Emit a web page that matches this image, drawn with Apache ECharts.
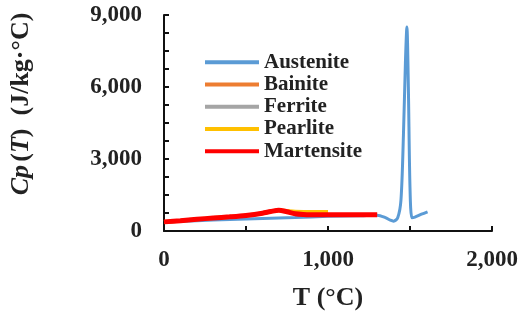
<!DOCTYPE html>
<html>
<head>
<meta charset="utf-8">
<script src="https://cdn.jsdelivr.net/npm/echarts@6/dist/echarts.min.js"></script>
<style>
  html, body { margin: 0; padding: 0; background: #fff; }
  #chart { width: 521px; height: 320px; }
</style>
</head>
<body>
<div id="chart"></div>
<script>
// data (temperature in °C, Cp in J/kg·°C)
var austeniteT = [0, 200, 400, 600, 800, 1000, 1200, 1300, 1350, 1380, 1400, 1425, 1445, 1460, 1472, 1481, 1490, 1500, 1512, 1530, 1570, 1607];
var austeniteCp = [380, 430, 480, 520, 560, 610, 640, 660, 560, 450, 410, 550, 1300, 4000, 7000, 8500, 6000, 1800, 550, 580, 700, 800];

var bainiteT = [0, 100, 200, 300, 400, 500, 600, 650, 700, 750, 800];
var bainiteCp = [375, 425, 485, 535, 585, 645, 735, 805, 860, 800, 730];

var ferriteT = [0, 100, 200, 300, 400, 500, 600, 650, 700, 750, 800, 900];
var ferriteCp = [375, 425, 485, 535, 585, 645, 735, 805, 860, 800, 720, 680];

var pearliteT = [0, 100, 200, 300, 400, 500, 600, 650, 700, 750, 800, 850, 900, 1000];
var pearliteCp = [380, 430, 490, 540, 590, 650, 740, 810, 865, 830, 800, 795, 795, 795];

var martensiteT = [0, 100, 200, 300, 400, 500, 600, 650, 700, 750, 800, 850, 900, 1000, 1100, 1200, 1300];
var martensiteCp = [380, 430, 490, 540, 590, 650, 740, 810, 865, 800, 720, 690, 680, 675, 675, 675, 675];

var seriesNames = ['Austenite', 'Bainite', 'Ferrite', 'Pearlite', 'Martensite'];
var seriesColors = ['#5B9BD5', '#ED7D31', '#A5A5A5', '#FFC000', '#FF0000'];

function pairs(xs, ys) {
  var out = [];
  for (var i = 0; i < xs.length; i++) out.push([xs[i], ys[i]]);
  return out;
}

var chart = echarts.init(document.getElementById('chart'));
var serif = 'Liberation Serif';

function makeSeries(name, color, data, width) {
  return {
    name: name,
    type: 'line',
    data: data,
    smooth: 0.3,
    showSymbol: false,
    lineStyle: { color: color, width: width },
    itemStyle: { color: color }
  };
}

var option = {
  animation: false,
  grid: { left: 164, right: 29, top: 15, bottom: 89 },
  legend: {
    orient: 'vertical',
    left: 200,
    top: 46,
    icon: 'rect',
    itemWidth: 54,
    itemHeight: 4,
    itemGap: 0,
    data: seriesNames,
    textStyle: { fontFamily: serif, fontWeight: 'bold', fontSize: 21, color: '#222', lineHeight: 22.3 }
  },
  xAxis: {
    type: 'value',
    min: 0,
    max: 2000,
    interval: 500,
    name: 'T (°C)',
    nameLocation: 'middle',
    nameGap: 54,
    nameTextStyle: { fontFamily: serif, fontWeight: 'bold', fontSize: 26, color: '#222' },
    axisLine: { lineStyle: { color: '#111', width: 2 } },
    axisTick: { show: true, inside: true, length: 5, lineStyle: { color: '#111', width: 2 } },
    splitLine: { show: false },
    axisLabel: {
      margin: 18,
      fontFamily: serif, fontWeight: 'bold', fontSize: 23, color: '#222',
      formatter: function (v) { return v % 1000 === 0 ? v.toLocaleString('en-US') : ''; }
    }
  },
  yAxis: {
    type: 'value',
    min: 0,
    max: 9000,
    interval: 750,
    name: '{i|Cp} {n|(}{i|T}{n|)  (J/kg·°C)}',
    nameLocation: 'middle',
    nameRotate: 90,
    nameGap: 130,
    nameTextStyle: {
      padding: [0, 0, 0, 38],
      rich: {
        i: { fontFamily: serif, fontStyle: 'italic', fontWeight: 'bold', fontSize: 26, color: '#222' },
        n: { fontFamily: serif, fontWeight: 'bold', fontSize: 26, color: '#222' }
      }
    },
    axisLine: { show: true, lineStyle: { color: '#111', width: 2 } },
    axisTick: { show: true, inside: true, length: 5, lineStyle: { color: '#111', width: 2 } },
    splitLine: { show: false },
    axisLabel: {
      margin: 22,
      fontFamily: serif, fontWeight: 'bold', fontSize: 23, color: '#222',
      formatter: function (v) { return v % 3000 === 0 ? v.toLocaleString('en-US') : ''; }
    }
  },
  series: [
    makeSeries('Austenite', seriesColors[0], pairs(austeniteT, austeniteCp), 3),
    makeSeries('Bainite', seriesColors[1], pairs(bainiteT, bainiteCp), 3),
    makeSeries('Ferrite', seriesColors[2], pairs(ferriteT, ferriteCp), 3),
    makeSeries('Pearlite', seriesColors[3], pairs(pearliteT, pearliteCp), 4),
    makeSeries('Martensite', seriesColors[4], pairs(martensiteT, martensiteCp), 5)
  ]
};

chart.setOption(option);
</script>
</body>
</html>
